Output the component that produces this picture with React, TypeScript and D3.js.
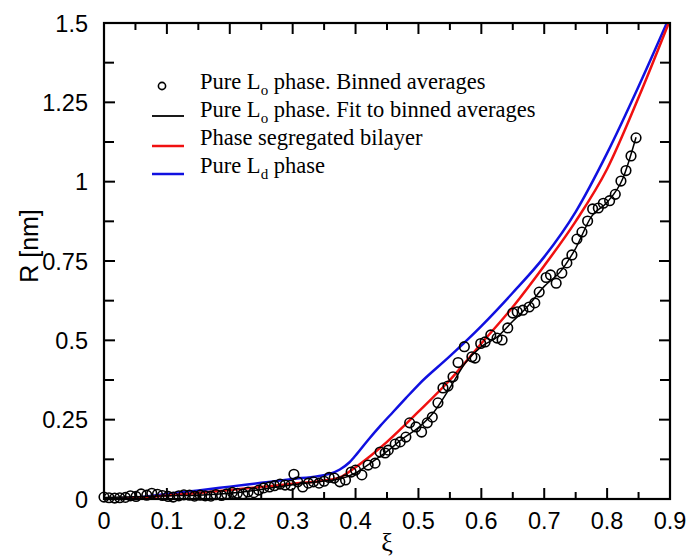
import React from "react";
import * as d3 from "d3";

const W = 691;
const H = 560;
const M = { left: 104, right: 21, top: 23, bottom: 61 };

const xMajorTicks = [0, 0.1, 0.2, 0.3, 0.4, 0.5, 0.6, 0.7, 0.8, 0.9];
const xMinorTicks = [0.05, 0.15, 0.25, 0.35, 0.45, 0.55, 0.65, 0.75, 0.85];
const xTickLabels = ["0", "0.1", "0.2", "0.3", "0.4", "0.5", "0.6", "0.7", "0.8", "0.9"];
const yMajorTicks = [0, 0.25, 0.5, 0.75, 1, 1.25, 1.5];
const yMinorTicks = [0.125, 0.375, 0.625, 0.875, 1.125, 1.375];
const yTickLabels = ["0", "0.25", "0.5", "0.75", "1", "1.25", "1.5"];

// Pure Lo phase, binned averages [xi, R]
const binnedXi = [
  0.0, 0.008, 0.017, 0.025, 0.034, 0.042, 0.051, 0.059, 0.068, 0.076, 0.085, 0.093, 0.102, 0.11, 0.119,
  0.127, 0.136, 0.144, 0.153, 0.161, 0.17, 0.178, 0.187, 0.195, 0.204, 0.212, 0.221, 0.229, 0.238, 0.246,
  0.254, 0.263, 0.271, 0.28, 0.288, 0.297, 0.302, 0.308, 0.316, 0.325, 0.333, 0.342, 0.35, 0.358, 0.366,
  0.375, 0.384, 0.393, 0.4, 0.41, 0.42, 0.431, 0.439, 0.447, 0.452, 0.463, 0.471, 0.48, 0.486, 0.496,
  0.505, 0.514, 0.522, 0.531, 0.539, 0.547, 0.555, 0.563, 0.573, 0.585, 0.59, 0.599, 0.606, 0.615, 0.625,
  0.633, 0.642, 0.65, 0.657, 0.666, 0.676, 0.685, 0.692, 0.703, 0.71, 0.719, 0.728, 0.736, 0.744, 0.752,
  0.76, 0.769, 0.777, 0.786, 0.794, 0.804, 0.813, 0.822, 0.83, 0.838, 0.846,
];
const binnedR = [
  0.006, 0.004, 0.003, 0.004, 0.005, 0.01, 0.008, 0.016, 0.012, 0.018, 0.015, 0.011, 0.008, 0.006, 0.01,
  0.013, 0.012, 0.009, 0.012, 0.01, 0.009, 0.014, 0.011, 0.016, 0.021, 0.018, 0.016, 0.022, 0.02, 0.028,
  0.035, 0.038, 0.042, 0.047, 0.044, 0.043, 0.078, 0.054, 0.038, 0.05, 0.054, 0.05, 0.056, 0.068, 0.066,
  0.054, 0.06, 0.085, 0.091, 0.076, 0.107, 0.113, 0.148, 0.145, 0.154, 0.173, 0.18, 0.195, 0.24, 0.227,
  0.211, 0.24, 0.258, 0.303, 0.35, 0.356, 0.385, 0.43, 0.48, 0.448, 0.444, 0.49, 0.495, 0.517, 0.507,
  0.501, 0.539, 0.586, 0.59, 0.595, 0.605, 0.618, 0.652, 0.698, 0.706, 0.68, 0.712, 0.744, 0.769, 0.819,
  0.841, 0.876, 0.914, 0.917, 0.932, 0.94, 0.96, 1.002, 1.035, 1.081, 1.138,
];

// Pure Lo phase, fit to binned averages
const fitXi = [0, 0.05, 0.1, 0.15, 0.2, 0.25, 0.3, 0.35, 0.375, 0.4, 0.425, 0.45, 0.475, 0.5, 0.525, 0.55,
  0.575, 0.6, 0.625, 0.65, 0.675, 0.7, 0.725, 0.75, 0.775, 0.8, 0.825, 0.846];
const fitR = [0.005, 0.007, 0.01, 0.012, 0.018, 0.03, 0.045, 0.057, 0.063, 0.082, 0.115, 0.15, 0.19, 0.225,
  0.275, 0.35, 0.43, 0.48, 0.51, 0.56, 0.61, 0.67, 0.715, 0.79, 0.89, 0.935, 1.01, 1.14];

// Phase segregated bilayer
const redXi = [0.02, 0.05, 0.1, 0.15, 0.2, 0.25, 0.3, 0.35, 0.375, 0.4, 0.425, 0.45, 0.5, 0.55, 0.6, 0.65,
  0.7, 0.75, 0.8, 0.85, 0.9];
const redR = [0.0, 0.003, 0.011, 0.019, 0.028, 0.038, 0.048, 0.058, 0.068, 0.1, 0.138, 0.18, 0.275, 0.375,
  0.49, 0.605, 0.735, 0.875, 1.04, 1.265, 1.51];

// Pure Ld phase
const blueXi = [0.02, 0.05, 0.1, 0.15, 0.2, 0.25, 0.3, 0.34, 0.36, 0.375, 0.39, 0.4, 0.42, 0.44, 0.46, 0.48,
  0.5, 0.55, 0.6, 0.65, 0.7, 0.75, 0.8, 0.85, 0.9];
const blueR = [0.0, 0.005, 0.016, 0.027, 0.039, 0.051, 0.063, 0.072, 0.08, 0.093, 0.115, 0.137, 0.186, 0.232,
  0.275, 0.318, 0.36, 0.45, 0.545, 0.65, 0.763, 0.905, 1.09, 1.3, 1.523];

const legendLabels = [
  ["Pure L", "o", " phase. Binned averages"],
  ["Pure L", "o", " phase. Fit to binned averages"],
  ["Phase segregated bilayer", "", ""],
  ["Pure L", "d", " phase"],
];

export default function App() {
  const x = d3.scaleLinear().domain([0, 0.9]).range([M.left, W - M.right]);
  const y = d3.scaleLinear().domain([0, 1.5]).range([H - M.bottom, M.top]);
  const x0 = x(0), x1 = x(0.9), y0 = y(0), y1 = y(1.5);

  const line = d3
    .line<[number, number]>()
    .x((d) => x(d[0]))
    .y((d) => y(d[1]))
    .curve(d3.curveMonotoneX);

  const fitPts = fitXi.map((v, i) => [v, fitR[i]] as [number, number]);
  const redPts = redXi.map((v, i) => [v, redR[i]] as [number, number]);
  const bluePts = blueXi.map((v, i) => [v, blueR[i]] as [number, number]);

  const sans = "'Liberation Sans', Arial, Helvetica, sans-serif";
  const serif = "'Liberation Serif', 'Times New Roman', Times, serif";
  const majLen = 11;
  const minLen = 7;

  const legX = 200;
  const legY = [89, 117, 145, 173];

  return (
    <svg width={W} height={H} style={{ position: "absolute", left: 0, top: 0, background: "#fff" }}>
      <defs>
        <clipPath id="plotClip">
          <rect x={x0} y={y1} width={x1 - x0} height={y0 - y1} />
        </clipPath>
      </defs>
      <rect x={0} y={0} width={W} height={H} fill="#fff" />

      <g clipPath="url(#plotClip)" fill="none">
        <path d={line(bluePts) || ""} stroke="#1010e0" strokeWidth={2.5} />
        <path d={line(redPts) || ""} stroke="#f01010" strokeWidth={2.5} />
        <path d={line(fitPts) || ""} stroke="#000" strokeWidth={1.5} />
      </g>
      <g fill="none" stroke="#000" strokeWidth={1.6}>
        {binnedXi.map((v, i) => (
          <circle key={i} cx={x(v)} cy={y(binnedR[i])} r={4.8} />
        ))}
      </g>

      {/* frame */}
      <rect x={x0} y={y1} width={x1 - x0} height={y0 - y1} fill="none" stroke="#000" strokeWidth={2.2} />

      {/* ticks */}
      <g stroke="#000" strokeWidth={2}>
        {xMajorTicks.map((t) => (
          <g key={"xm" + t}>
            <line x1={x(t)} x2={x(t)} y1={y0} y2={y0 - majLen} />
            <line x1={x(t)} x2={x(t)} y1={y1} y2={y1 + majLen} />
          </g>
        ))}
        {xMinorTicks.map((t) => (
          <g key={"xn" + t}>
            <line x1={x(t)} x2={x(t)} y1={y0} y2={y0 - minLen} />
            <line x1={x(t)} x2={x(t)} y1={y1} y2={y1 + minLen} />
          </g>
        ))}
        {yMajorTicks.map((t) => (
          <g key={"ym" + t}>
            <line x1={x0} x2={x0 + majLen} y1={y(t)} y2={y(t)} />
            <line x1={x1} x2={x1 - majLen} y1={y(t)} y2={y(t)} />
          </g>
        ))}
        {yMinorTicks.map((t) => (
          <g key={"yn" + t}>
            <line x1={x0} x2={x0 + minLen + 3} y1={y(t)} y2={y(t)} />
            <line x1={x1} x2={x1 - minLen - 3} y1={y(t)} y2={y(t)} />
          </g>
        ))}
      </g>

      {/* tick labels */}
      <g fontFamily={sans} fontSize={23.5} fill="#000">
        {xMajorTicks.map((t, i) => (
          <text key={"xl" + t} x={x(t)} y={y0 + 30} textAnchor="middle">
            {xTickLabels[i]}
          </text>
        ))}
        {yMajorTicks.map((t, i) => (
          <text key={"yl" + t} x={x0 - 16} y={y(t) + 8.5} textAnchor="end">
            {yTickLabels[i]}
          </text>
        ))}
      </g>

      {/* axis titles */}
      <text
        transform={`translate(38, 246) rotate(-90)`}
        textAnchor="middle"
        fontFamily={sans}
        fontSize={25}
      >
        R [nm]
      </text>
      <text x={(x0 + x1) / 2} y={551} textAnchor="middle" fontFamily={serif} fontSize={26}>
        ξ
      </text>

      {/* legend */}
      <g fontFamily={serif} fontSize={22.5} fill="#000">
        <circle cx={162} cy={legY[0] - 3} r={3.6} fill="none" stroke="#000" strokeWidth={1.6} />
        <line x1={152} x2={184} y1={legY[1] - 1} y2={legY[1] - 1} stroke="#000" strokeWidth={1.8} />
        <line x1={152} x2={184} y1={legY[2] + 1} y2={legY[2] + 1} stroke="#f01010" strokeWidth={2.5} />
        <line x1={152} x2={184} y1={legY[3] + 1} y2={legY[3] + 1} stroke="#1010e0" strokeWidth={2.5} />
        {legendLabels.map((parts, i) => (
          <text key={"lg" + i} x={legX} y={legY[i]}>
            {parts[0]}
            {parts[1] ? (
              <tspan fontSize={15} dy={6}>
                {parts[1]}
              </tspan>
            ) : null}
            {parts[2] ? <tspan dy={parts[1] ? -6 : 0}>{parts[2]}</tspan> : null}
          </text>
        ))}
      </g>
    </svg>
  );
}
